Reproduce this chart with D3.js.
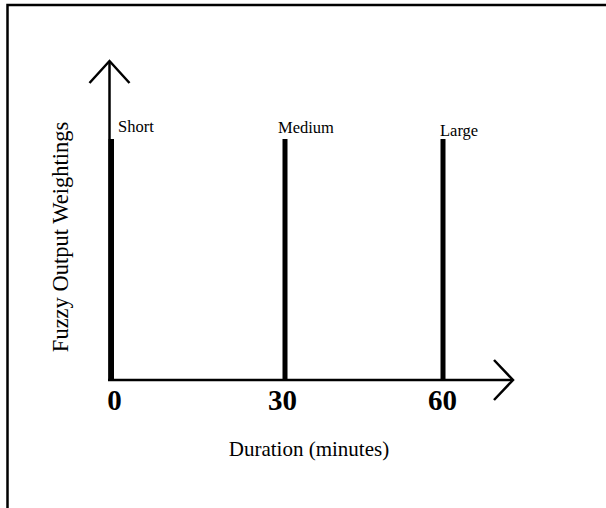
<!DOCTYPE html>
<html>
<head>
<meta charset="utf-8">
<script src="https://cdn.jsdelivr.net/npm/d3@7"></script>
<style>
  body { margin: 0; background: #fff; }
  svg { display: block; }
  text { font-family: "Liberation Serif", "Times New Roman", serif; fill: #000; }
</style>
</head>
<body>
<svg id="chart" width="606" height="508"></svg>
<script>
// ---- data ----
const categories = ["Short", "Medium", "Large"];
const durations = [0, 30, 60];          // minutes
const weights = [1, 1, 1];              // fuzzy output weightings (peak)
const tickValues = [0, 30, 60];
const xTitle = "Duration (minutes)";
const yTitle = "Fuzzy Output Weightings";

// ---- drawing ----
const svg = d3.select("#chart");
svg.append("rect").attr("width", 606).attr("height", 508).attr("fill", "#fff");

// frame (top and left edges)
svg.append("path")
  .attr("d", "M7.5,508 L7.5,5 L606,5")
  .attr("fill", "none").attr("stroke", "#000").attr("stroke-width", 2.5);

const x = d3.scaleLinear().domain([0, 30, 60]).range([110, 285, 443]);
const y = d3.scaleLinear().domain([0, 1]).range([380, 139]);

const x0 = 109.5, y0 = y(0);

// y axis with arrow
svg.append("line").attr("x1", x0).attr("x2", x0).attr("y1", y0).attr("y2", 61)
  .attr("stroke", "#000").attr("stroke-width", 2.5);
svg.append("polyline").attr("points", `${x0 - 20},83 ${x0},61 ${x0 + 20},83`)
  .attr("fill", "none").attr("stroke", "#000").attr("stroke-width", 2.5);

// x axis with arrow
svg.append("line").attr("x1", 108).attr("x2", 513).attr("y1", y0).attr("y2", y0)
  .attr("stroke", "#000").attr("stroke-width", 2.5);
svg.append("polyline").attr("points", `494,${y0 - 20} 513,${y0} 494,${y0 + 20}`)
  .attr("fill", "none").attr("stroke", "#000").attr("stroke-width", 2.5);

// singleton bars
const data = categories.map((c, i) => ({ c, d: durations[i], w: weights[i] }));
svg.selectAll("rect.bar").data(data).join("rect")
  .attr("class", "bar")
  .attr("x", d => x(d.d) - (d.d === 0 ? 1.5 : 2.5))
  .attr("width", d => d.d === 0 ? 5.5 : 5)
  .attr("y", d => y(d.w))
  .attr("height", d => y(0) - y(d.w))
  .attr("fill", "#000");

// category labels
const labelDx = [8, -7, -3];
const labelY = [132, 133, 136];
svg.selectAll("text.cat").data(data).join("text")
  .attr("class", "cat")
  .attr("x", (d, i) => x(d.d) + labelDx[i])
  .attr("y", (d, i) => labelY[i])
  .attr("font-size", 16.5)
  .text(d => d.c);

// tick labels via d3 axis
const xAxis = d3.axisBottom(x).tickValues(tickValues).tickSize(0).tickPadding(0).tickFormat(d3.format("d"));
const gx = svg.append("g").attr("transform", `translate(0,${y0})`).call(xAxis);
gx.select(".domain").remove();
gx.selectAll(".tick text")
  .attr("dy", null).attr("y", 30)
  .attr("font-family", "Liberation Serif, serif")
  .attr("font-weight", "bold")
  .attr("font-size", 29)
  .attr("fill", "#000")
  .attr("dx", (d, i) => [4, -3, -1][i]);

// axis titles
svg.append("text").attr("x", 309).attr("y", 456).attr("text-anchor", "middle")
  .attr("font-size", 21).text(xTitle);
svg.append("text").attr("transform", "translate(68,237) rotate(-90)")
  .attr("text-anchor", "middle").attr("font-size", 22.5).text(yTitle);
</script>
</body>
</html>
